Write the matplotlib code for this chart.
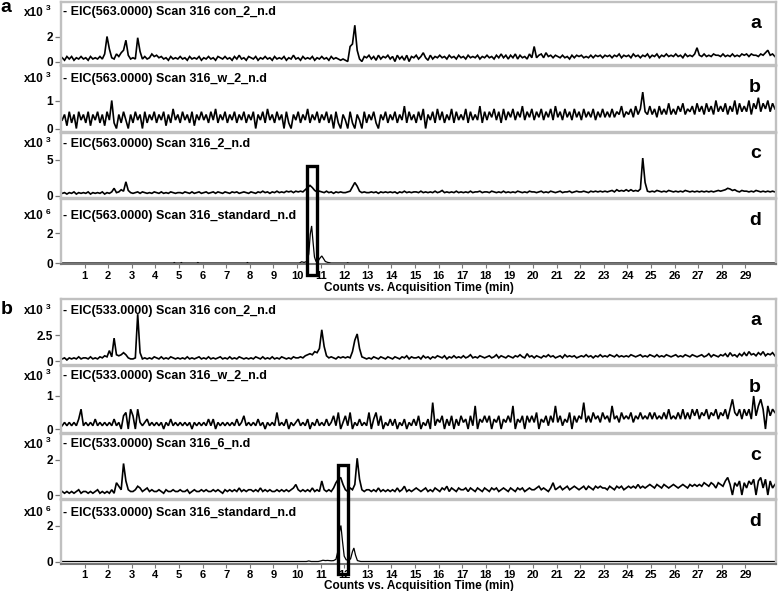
import numpy as np
import matplotlib
matplotlib.use("Agg")
import matplotlib.pyplot as plt
from matplotlib.patches import Rectangle

plt.rcParams['font.family'] = ['Liberation Sans', 'DejaVu Sans']
plt.rcParams['font.weight'] = 'bold'

# ------------------------------------------------------------------ data
# digitised sample times (min) of the noisy traces, one sample every 0.1 min
sample_t = np.round(0.05 + 0.1 * np.arange(303), 2)

# values below are in units of 0.1 x (panel multiplier)
# ---- (a) EIC 563
a_con_2 = [
    3, 1, 4, 2, 4, 1, 3, 2, 4, 2,  3, 1, 4, 2, 3, 2, 4, 2, 6, 20,
    10, 3, 2, 6, 4, 7, 9, 17, 5, 2,  3, 2, 19, 8, 2, 4, 2, 3, 6, 4,
    5, 3, 4, 2, 3, 1, 4, 2, 3, 2,  4, 2, 3, 1, 4, 2, 3, 2, 4, 1,
    3, 2, 4, 2, 3, 1, 4, 3, 2, 4,  2, 3, 1, 4, 2, 5, 2, 3, 1, 4,
    3, 2, 4, 1, 3, 2, 4, 2, 3, 1,  4, 2, 3, 2, 4, 1, 3, 2, 5, 2,
    3, 1, 4, 2, 3, 2, 4, 1, 3, 2,  4, 2, 3, 1, 4, 2, 3, 2, 1, 2,
    1, 0, 12, 14, 29, 9, 2, 0, 4, 3,  5, 2, 4, 1, 5, 2, 4, 3, 5, 2,
    4, 0, 5, 2, 4, 1, 5, 0, 4, 3,  5, 2, 4, 7, 3, 1, 5, 2, 4, 3,
    5, 3, 4, 2, 5, 3, 4, 2, 5, 3,  4, 2, 5, 3, 4, 3, 5, 2, 4, 3,
    5, 3, 4, 2, 5, 3, 6, 3, 5, 2,  5, 3, 6, 2, 5, 3, 4, 2, 6, 3,
    12, 3, 5, 6, 3, 7, 4, 5, 3, 5,  4, 3, 5, 3, 4, 2, 5, 3, 5, 4,
    5, 3, 4, 3, 5, 3, 5, 4, 5, 3,  5, 4, 5, 3, 5, 4, 6, 3, 5, 4,
    5, 3, 6, 4, 5, 3, 5, 4, 6, 3,  5, 4, 6, 3, 5, 4, 6, 4, 5, 4,
    6, 4, 5, 3, 6, 4, 5, 4, 6, 11,  5, 4, 6, 4, 5, 4, 6, 5, 5, 4,
    6, 4, 5, 4, 6, 4, 5, 4, 6, 5,  6, 4, 6, 5, 5, 4, 6, 5, 7, 9,
    5, 6, 4]

a_w_2 = [
    3, 5, 1, 6, 2, 5, 0, 6, 3, 5,  2, 6, 1, 5, 3, 6, 2, 5, 1, 6,
    3, 10, 2, 0, 5, 2, 6, 3, 0, 5,  2, 6, 3, 5, 0, 6, 2, 5, 3, 6,
    2, 5, 3, 6, 1, 5, 2, 7, 3, 5,  2, 6, 3, 5, 2, 6, 1, 5, 3, 6,
    3, 5, 2, 6, 3, 7, 2, 5, 3, 6,  2, 5, 3, 6, 2, 5, 3, 6, 2, 5,
    3, 6, 0, 5, 3, 6, 2, 7, 3, 5,  2, 6, 3, 5, 0, 6, 2, 0, 5, 3,
    6, 2, 5, 3, 7, 2, 5, 3, 6, 2,  5, 3, 6, 2, 5, 0, 6, 2, 0, 5,
    3, 0, 6, 2, 0, 5, 3, 0, 6, 2,  5, 3, 6, 2, 0, 5, 3, 6, 2, 5,
    3, 6, 2, 5, 3, 8, 2, 6, 3, 5,  2, 6, 3, 7, 0, 5, 3, 6, 2, 7,
    3, 6, 2, 5, 3, 7, 2, 6, 3, 5,  3, 7, 2, 6, 3, 5, 3, 8, 2, 6,
    3, 6, 4, 7, 3, 6, 2, 7, 3, 6,  4, 7, 3, 6, 4, 8, 3, 6, 4, 7,
    3, 6, 4, 7, 3, 6, 4, 7, 3, 8,  4, 6, 3, 7, 4, 6, 3, 7, 4, 6,
    3, 7, 4, 6, 4, 7, 3, 6, 4, 7,  4, 6, 4, 7, 4, 6, 5, 8, 4, 6,
    5, 7, 4, 8, 5, 7, 13, 6, 5, 8,  5, 7, 4, 8, 5, 7, 5, 9, 5, 7,
    5, 8, 6, 9, 5, 7, 6, 8, 5, 9,  6, 8, 5, 9, 6, 8, 5, 10, 6, 8,
    6, 9, 5, 8, 6, 10, 5, 9, 6, 8,  6, 10, 5, 9, 7, 11, 6, 9, 7, 10,
    6, 9, 7]

a_2 = [
    3, 4, 2, 4, 3, 5, 2, 4, 3, 4,  3, 5, 2, 4, 3, 4, 3, 5, 2, 4,
    3, 5, 10, 4, 5, 8, 6, 19, 7, 4,  3, 4, 5, 3, 5, 4, 3, 4, 3, 5,
    4, 3, 5, 3, 4, 3, 5, 4, 3, 4,  4, 3, 5, 4, 3, 5, 3, 4, 5, 3,
    4, 5, 3, 4, 5, 3, 5, 4, 3, 5,  4, 3, 5, 4, 5, 3, 4, 5, 4, 3,
    5, 4, 3, 5, 4, 6, 4, 5, 3, 5,  4, 6, 4, 5, 4, 6, 5, 6, 4, 6,
    5, 6, 5, 8, 11, 14, 11, 7, 5, 6,  5, 4, 6, 4, 5, 3, 5, 4, 5, 4,
    4, 5, 6, 12, 18, 13, 6, 4, 5, 4,  4, 5, 4, 5, 3, 5, 4, 5, 4, 5,
    4, 5, 3, 5, 4, 6, 4, 5, 4, 5,  5, 4, 6, 4, 5, 4, 5, 4, 6, 4,
    5, 7, 4, 5, 4, 5, 4, 6, 4, 5,  4, 5, 4, 6, 4, 5, 5, 6, 4, 5,
    5, 4, 6, 5, 4, 5, 4, 6, 4, 5,  4, 5, 4, 6, 5, 4, 5, 4, 6, 5,
    5, 4, 5, 6, 4, 5, 4, 6, 5, 4,  5, 6, 4, 5, 5, 6, 4, 5, 6, 5,
    5, 6, 5, 4, 6, 5, 6, 5, 6, 5,  6, 5, 6, 7, 5, 8, 6, 7, 6, 8,
    6, 8, 6, 7, 6, 9, 52, 18, 6, 5,  6, 5, 7, 6, 5, 6, 5, 7, 6, 5,
    6, 5, 6, 5, 7, 6, 5, 6, 5, 6,  5, 6, 5, 6, 5, 6, 5, 6, 7, 6,
    7, 8, 10, 9, 7, 8, 6, 5, 7, 6,  6, 5, 6, 5, 7, 6, 5, 6, 5, 6,
    5, 6, 5]

# standard traces (x10^6): sparse (time, value) points
a_std_t = [0.05, 4.75, 4.8, 4.85, 5.05, 5.1, 5.15, 5.75, 5.8, 5.85, 7.85, 7.9,
           7.95, 10.1, 10.2, 10.3, 10.42, 10.5, 10.56, 10.62, 10.68, 10.74,
           10.8, 10.88, 10.96, 11.05, 11.12, 11.2, 11.3, 11.45, 12.1, 12.15,
           12.2, 30.3]
a_std_v = [0, 0, 0.03, 0, 0, 0.03, 0, 0, 0.03, 0, 0, 0.03,
           0, 0, 0.08, 0.04, 0.1, 0.6, 1.9, 2.47, 1.4, 0.4,
           0.12, 0.1, 0.3, 0.47, 0.3, 0.1, 0.04, 0, 0, 0.02,
           0, 0]

# ---- (b) EIC 533
b_con_2 = [
    2, 3, 1, 3, 2, 3, 2, 4, 2, 3,  3, 2, 4, 2, 3, 2, 4, 3, 5, 4,
    10, 4, 22, 6, 5, 6, 8, 6, 3, 2,  2, 3, 45, 8, 2, 3, 2, 3, 2, 4,
    3, 2, 4, 2, 3, 2, 4, 3, 2, 3,  2, 3, 2, 4, 2, 3, 2, 3, 4, 2,
    3, 2, 4, 2, 3, 2, 3, 4, 2, 3,  2, 4, 2, 3, 2, 4, 3, 2, 3, 2,
    3, 2, 4, 3, 2, 4, 2, 3, 2, 4,  2, 3, 2, 4, 3, 2, 3, 2, 4, 3,
    3, 4, 3, 5, 6, 7, 6, 9, 8, 12,  30, 14, 5, 3, 4, 3, 2, 4, 3, 4,
    3, 4, 3, 9, 20, 26, 12, 4, 3, 2,  3, 2, 4, 3, 2, 4, 3, 2, 4, 3,
    2, 4, 3, 2, 4, 3, 5, 2, 4, 3,  3, 4, 2, 5, 3, 4, 2, 4, 3, 5,
    4, 3, 5, 2, 4, 3, 5, 3, 4, 3,  5, 3, 4, 6, 3, 4, 3, 5, 4, 3,
    4, 5, 3, 4, 6, 3, 5, 4, 3, 5,  4, 3, 5, 4, 6, 4, 3, 7, 4, 5,
    3, 5, 4, 3, 5, 4, 6, 4, 5, 3,  4, 5, 3, 6, 4, 5, 4, 5, 3, 4,
    5, 4, 6, 4, 5, 3, 5, 4, 6, 4,  5, 4, 6, 5, 4, 6, 4, 5, 4, 5,
    4, 6, 5, 4, 5, 6, 4, 5, 4, 6,  5, 4, 6, 4, 5, 4, 6, 5, 4, 5,
    6, 4, 5, 4, 6, 5, 4, 6, 5, 4,  5, 6, 4, 5, 7, 4, 6, 5, 4, 6,
    5, 7, 4, 8, 5, 6, 4, 7, 5, 8,  5, 9, 6, 7, 5, 8, 6, 9, 5, 7,
    6, 8, 5]

b_w_2 = [
    1, 2, 1, 2, 1, 2, 1, 3, 6, 1,  2, 1, 2, 1, 3, 1, 2, 1, 2, 1,
    2, 1, 3, 1, 2, 0, 4, 5, 0, 6,  4, 0, 6, 2, 1, 2, 3, 1, 2, 1,
    2, 1, 2, 0, 2, 1, 3, 1, 2, 1,  2, 1, 2, 1, 2, 0, 2, 1, 2, 1,
    2, 1, 3, 1, 3, 0, 2, 1, 2, 1,  2, 1, 2, 1, 3, 1, 2, 4, 1, 2,
    1, 2, 1, 3, 1, 2, 0, 2, 1, 2,  1, 5, 1, 2, 1, 3, 0, 2, 1, 2,
    3, 1, 2, 1, 3, 0, 2, 1, 3, 1,  2, 1, 3, 1, 2, 4, 1, 5, 0, 2,
    4, 1, 5, 0, 2, 1, 3, 1, 2, 1,  5, 0, 3, 5, 1, 4, 0, 2, 1, 3,
    1, 3, 0, 2, 1, 3, 0, 2, 1, 3,  1, 4, 0, 2, 1, 3, 0, 8, 1, 3,
    2, 4, 0, 3, 1, 4, 0, 3, 1, 4,  2, 3, 0, 4, 1, 7, 0, 3, 2, 4,
    2, 4, 0, 3, 2, 4, 0, 3, 2, 4,  2, 7, 0, 3, 2, 4, 0, 4, 2, 4,
    2, 5, 0, 3, 2, 4, 1, 4, 2, 7,  2, 4, 1, 3, 2, 5, 0, 4, 2, 4,
    3, 8, 2, 4, 2, 5, 3, 4, 2, 5,  3, 4, 2, 7, 3, 4, 2, 5, 3, 4,
    3, 5, 2, 4, 3, 5, 3, 4, 3, 5,  3, 5, 3, 4, 3, 5, 3, 6, 3, 4,
    3, 5, 3, 6, 3, 5, 3, 6, 4, 6,  3, 5, 4, 6, 3, 5, 4, 6, 3, 5,
    4, 6, 3, 6, 9, 5, 4, 6, 3, 6,  4, 6, 3, 10, 4, 7, 9, 6, 0, 7,
    4, 6, 5]

b_6 = [
    2, 1, 2, 1, 2, 1, 2, 3, 1, 2,  2, 1, 2, 1, 2, 3, 1, 2, 1, 2,
    1, 3, 1, 7, 5, 3, 18, 8, 3, 2,  2, 3, 5, 4, 2, 3, 4, 2, 3, 2,
    2, 3, 2, 1, 3, 2, 2, 3, 2, 2,  3, 2, 2, 3, 1, 2, 3, 2, 2, 3,
    2, 3, 2, 2, 3, 2, 3, 2, 1, 3,  2, 3, 2, 3, 2, 4, 2, 3, 2, 3,
    3, 2, 3, 2, 4, 2, 3, 2, 3, 2,  2, 3, 2, 3, 2, 3, 2, 3, 4, 6,
    3, 2, 3, 2, 3, 2, 4, 2, 3, 2,  8, 3, 2, 3, 2, 4, 7, 9, 10, 6,
    3, 2, 4, 3, 6, 21, 9, 3, 2, 3,  3, 2, 3, 2, 4, 2, 3, 2, 3, 2,
    3, 2, 4, 2, 3, 5, 2, 3, 2, 3,  4, 3, 2, 3, 4, 2, 3, 2, 4, 3,
    2, 4, 3, 5, 2, 4, 3, 2, 4, 3,  3, 4, 2, 4, 3, 2, 4, 3, 2, 4,
    3, 2, 4, 3, 4, 2, 3, 4, 3, 2,  4, 3, 2, 4, 3, 4, 2, 3, 4, 3,
    3, 4, 5, 3, 4, 3, 2, 4, 7, 3,  4, 5, 3, 4, 5, 3, 4, 5, 4, 3,
    4, 5, 3, 5, 4, 3, 5, 4, 5, 4,  4, 3, 5, 4, 3, 5, 4, 5, 3, 4,
    5, 4, 5, 4, 6, 4, 5, 4, 5, 6,  5, 4, 6, 5, 4, 6, 5, 4, 5, 6,
    5, 4, 5, 6, 5, 4, 6, 5, 6, 5,  6, 5, 7, 6, 5, 7, 6, 4, 7, 6,
    5, 8, 10, 6, 0, 7, 5, 8, 0, 7,  4, 8, 6, 9, 0, 8, 10, 4, 9, 0,
    8, 4, 6]

b_std_t = [0.05, 10.4, 10.5, 10.6, 10.9, 11.0, 11.1, 11.2, 11.3, 11.45, 11.55,
           11.65, 11.72, 11.79, 11.86, 11.93, 12.0, 12.08, 12.18, 12.27, 12.35,
           12.41, 12.48, 12.56, 12.7, 30.3]
b_std_v = [0, 0, 0.03, 0, 0, 0.03, 0.07, 0.05, 0.06, 0.04, 0.05,
           0.12, 0.5, 1.6, 2.0, 1.1, 0.3, 0.1, 0.06, 0.15, 0.55,
           0.75, 0.35, 0.05, 0, 0]

titles_563 = ["- EIC(563.0000) Scan 316 con_2_n.d",
              "- EIC(563.0000) Scan 316_w_2_n.d",
              "- EIC(563.0000) Scan 316_2_n.d",
              "- EIC(563.0000) Scan 316_standard_n.d"]
titles_533 = ["- EIC(533.0000) Scan 316 con_2_n.d",
              "- EIC(533.0000) Scan 316_w_2_n.d",
              "- EIC(533.0000) Scan 316_6_n.d",
              "- EIC(533.0000) Scan 316_standard_n.d"]
exponents = ["3", "3", "3", "6"]
panel_letters = ["a", "b", "c", "d"]
yticks_563 = [[0, 2], [0, 1], [0, 5], [0, 2]]
yticks_533 = [[0, 2.5], [0, 1], [0, 2], [0, 2]]
xticks = list(range(1, 30))
xlabel = "Counts vs. Acquisition Time (min)"

# highlighted retention windows (min) and vertical extent (panel c top value, panel d bottom value)
box_563 = (10.41, 10.83, 4.03, -0.83)
box_533 = (11.73, 12.14, 1.69, -0.72)

# ------------------------------------------------------------------ layout
W, H, DPI = 778, 591, 100
fig = plt.figure(figsize=(W / DPI, H / DPI), dpi=DPI)
fig.patch.set_facecolor("white")
L, R = 61, 776
PX_PER_MIN = 23.6
XMAX = (R - L) / PX_PER_MIN
GRAY = "#c0c0c0"
DARK = "#777777"

# (top px, bottom px, zero px, px per unit)
rows_563 = [(1.5, 65, 61.5, 12.5), (66, 131.5, 128.5, 28),
            (132.5, 198, 195.5, 7.2), (199, 264, 263, 15)]
rows_533 = [(299, 364.5, 361, 10.4), (365.5, 432.5, 429, 33),
            (433.5, 498.5, 495, 17.5), (499.5, 563.5, 561.5, 18)]
title_off_563 = [11, 13, 12, 17]
title_off_533 = [12, 11, 11, 13.5]


def fy(y):
    return 1 - y / H


def draw_group(letter, letter_base, rows, titles, title_off, yticks, series,
               box, xlabel_y):
    axes = []
    for k, (top, bot, zero, ppu) in enumerate(rows):
        ax = fig.add_axes([L / W, 1 - bot / H, (R - L) / W, (bot - top) / H])
        ax.set_xlim(0, XMAX)
        ax.set_ylim(-(bot - zero) / ppu, (zero - top) / ppu)
        ax.patch.set_alpha(0)
        for s in ax.spines.values():
            s.set_color(GRAY)
            s.set_linewidth(1.7)
        ax.set_yticks(yticks[k])
        ax.set_yticklabels([f"{v:g}" for v in yticks[k]])
        ax.tick_params(axis="y", direction="out", length=4, width=0.9,
                       color=DARK, pad=1.5, labelsize=8.5)
        if k == 3:
            ax.spines["bottom"].set_color(DARK)
            ax.spines["bottom"].set_linewidth(1.5)
            ax.set_xticks(xticks)
            ax.set_xticklabels([str(v) for v in xticks])
            ax.tick_params(axis="x", direction="out", length=3, width=0.8,
                           color=DARK, pad=2, labelsize=8)
        else:
            ax.set_xticks([])
        t, v = series[k]
        ax.plot(t, v, color="black", lw=1.2 if k < 3 else 0.9,
                solid_joinstyle="miter")
        cy = fy(top + title_off[k])
        fig.text(63 / W, cy, titles[k], ha="left", va="center", fontsize=9)
        fig.text(43.5 / W, cy, "x10", ha="right", va="center", fontsize=8.5)
        fig.text(46 / W, cy + 3.5 / H, exponents[k], ha="left", va="center",
                 fontsize=6)
        fig.text(761 / W, fy(top + 26), panel_letters[k], ha="right",
                 va="baseline", fontsize=14, weight="bold")
        axes.append(ax)
    fig.text(0.5 / W, fy(letter_base), letter, ha="left", va="baseline",
             fontsize=14, weight="bold")
    fig.text((L + R) / 2 / W, fy(xlabel_y), xlabel, ha="center", va="center",
             fontsize=8.5)
    # highlight rectangle spanning panels c and d
    t0, t1, vtop, vbot = box
    inv = fig.transFigure.inverted()
    x0, y1 = inv.transform(axes[2].transData.transform((t0, vtop)))
    x1, y0 = inv.transform(axes[3].transData.transform((t1, vbot)))
    fig.add_artist(Rectangle((x0, y0), x1 - x0, y1 - y0, fill=False,
                             edgecolor="black", lw=2.4,
                             transform=fig.transFigure, zorder=10))


series_563 = [(sample_t, np.array(a_con_2) * 0.1),
              (sample_t, np.array(a_w_2) * 0.1),
              (sample_t, np.array(a_2) * 0.1),
              (a_std_t, a_std_v)]
series_533 = [(sample_t, np.array(b_con_2) * 0.1),
              (sample_t, np.array(b_w_2) * 0.1),
              (sample_t, np.array(b_6) * 0.1),
              (b_std_t, b_std_v)]

draw_group("a", 11.5, rows_563, titles_563, title_off_563, yticks_563,
           series_563, box_563, 287.5)
draw_group("b", 314, rows_533, titles_533, title_off_533, yticks_533,
           series_533, box_533, 586)

fig.savefig("out.png", dpi=DPI, facecolor="white")
